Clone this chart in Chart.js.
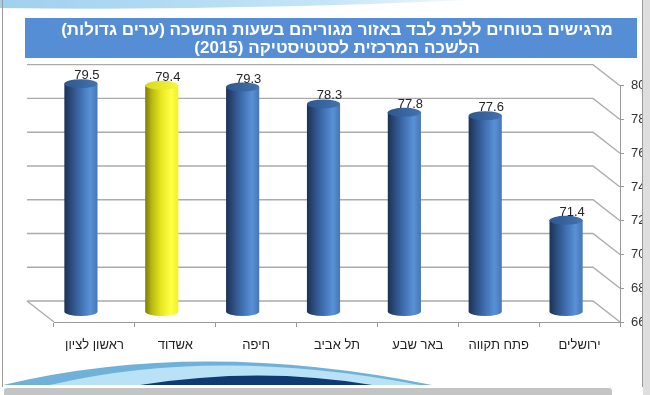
<!DOCTYPE html>
<html>
<head>
<meta charset="utf-8">
<script src="https://cdn.jsdelivr.net/npm/chart.js@4.4.1/dist/chart.umd.min.js"></script>
<style>
  html, body { margin: 0; padding: 0; background: #fff; }
  #wrap { width: 650px; height: 395px; position: relative; }
</style>
</head>
<body>
<div id="wrap"><canvas id="safetyChart"></canvas></div>
<script>
// נתונים
const cities = ['ראשון לציון', 'אשדוד', 'חיפה', 'תל אביב', 'באר שבע', 'פתח תקווה', 'ירושלים'];
const feelSafe = [79.5, 79.4, 79.3, 78.3, 77.8, 77.6, 71.4];
const titleLines = [
  'מרגישים בטוחים ללכת לבד באזור מגוריהם בשעות החשכה (ערים גדולות)',
  'הלשכה המרכזית לסטטיסטיקה (2015)'
];
const yMin = 66;
const yMax = 80;
const yStep = 2;

// עומק התלת-ממד (קיר אחורי)
const DEPTH_X = -27;
const DEPTH_Y = -21;

const BLUE = {
  body: [[0, '#1b3253'], [0.2, '#2b4b7c'], [0.5, '#4070b2'], [0.78, '#5991d6'], [1, '#4676b8']],
  top: ['#2d578f', '#4373b0']
};
const YELLOW = {
  body: [[0, '#7c7c08'], [0.2, '#b9b912'], [0.5, '#eaea22'], [0.78, '#ffff45'], [1, '#f0f02a']],
  top: ['#d8d81c', '#f7f740']
};
const barStyles = [BLUE, YELLOW, BLUE, BLUE, BLUE, BLUE, BLUE];

Chart.defaults.font.family = "'Liberation Sans', Arial, sans-serif";

// רקע השקופית: קשתות, מסגרת
const slideBackground = {
  id: 'slideBackground',
  beforeDraw(chart) {
    const ctx = chart.ctx;
    ctx.save();
    ctx.fillStyle = '#fff';
    ctx.fillRect(0, 0, chart.width, chart.height);

    // קשת עליונה
    const gTop = ctx.createLinearGradient(0, 0, 470, 0);
    gTop.addColorStop(0, '#9fd0ee');
    gTop.addColorStop(0.7, '#c5e5f7');
    gTop.addColorStop(1, '#f2f9fd');
    ctx.fillStyle = gTop;
    ctx.beginPath();
    ctx.moveTo(0, 0);
    ctx.lineTo(470, 0);
    ctx.quadraticCurveTo(230, 11, 0, 8);
    ctx.closePath();
    ctx.fill();

    // קשתות תחתונות
    ctx.fillStyle = '#6fb1d9';
    ctx.beginPath();
    ctx.moveTo(3, 385);
    ctx.quadraticCurveTo(200, 338, 432, 385);
    ctx.closePath();
    ctx.fill();
    ctx.fillStyle = '#b9e2f7';
    ctx.beginPath();
    ctx.moveTo(50, 385);
    ctx.quadraticCurveTo(215, 346, 420, 385);
    ctx.closePath();
    ctx.fill();
    ctx.fillStyle = '#0f3b72';
    ctx.beginPath();
    ctx.moveTo(140, 385);
    ctx.quadraticCurveTo(260, 366, 372, 385);
    ctx.closePath();
    ctx.fill();

    // מסגרת הכותרת
    ctx.fillStyle = '#558ed5';
    ctx.fillRect(25, 18, 612, 40);
    ctx.restore();
  },
  afterDraw(chart) {
    const ctx = chart.ctx;
    ctx.save();
    ctx.fillStyle = '#dedede';
    ctx.fillRect(643, 0, 7, chart.height);
    ctx.strokeStyle = '#9a9a9a';
    ctx.lineWidth = 1;
    ctx.beginPath();
    ctx.moveTo(642.5, 0);
    ctx.lineTo(642.5, 387);
    ctx.moveTo(2.5, 0);
    ctx.lineTo(2.5, 387);
    ctx.stroke();
    ctx.fillStyle = '#c4c4c4';
    ctx.beginPath();
    ctx.roundRect(4, 388, 608, 9, 3);
    ctx.fill();
    ctx.restore();
  }
};

// קיר אחורי ורצפה
const wallFrame = {
  id: 'wallFrame',
  beforeDatasetsDraw(chart) {
    const { ctx, chartArea: a, scales: { y } } = chart;
    ctx.save();
    ctx.strokeStyle = '#ababab';
    ctx.lineWidth = 1.3;
    ctx.beginPath();
    y.ticks.forEach(t => {
      const py = y.getPixelForValue(t.value);
      ctx.moveTo(a.left + DEPTH_X, py + DEPTH_Y);
      ctx.lineTo(a.right + DEPTH_X, py + DEPTH_Y);
      ctx.lineTo(a.right, py);
    });
    ctx.moveTo(a.left, a.bottom);
    ctx.lineTo(a.left + DEPTH_X, a.bottom + DEPTH_Y);
    ctx.stroke();
    ctx.restore();
  }
};

function drawCylinder(ctx, cx, top, bottom, rx, ry, style) {
  const g = ctx.createLinearGradient(cx - rx, 0, cx + rx, 0);
  style.body.forEach(s => g.addColorStop(s[0], s[1]));
  ctx.fillStyle = g;
  ctx.beginPath();
  ctx.moveTo(cx - rx, top);
  ctx.lineTo(cx - rx, bottom);
  ctx.ellipse(cx, bottom, rx, ry, 0, Math.PI, 0, true);
  ctx.lineTo(cx + rx, top);
  ctx.closePath();
  ctx.fill();

  const gt = ctx.createLinearGradient(cx - rx, 0, cx + rx, 0);
  gt.addColorStop(0, style.top[0]);
  gt.addColorStop(1, style.top[1]);
  ctx.fillStyle = gt;
  ctx.beginPath();
  ctx.ellipse(cx, top, rx, ry, 0, 0, Math.PI * 2);
  ctx.fill();
}

// עמודות גליליות + תוויות ערכים
const cylinders = {
  id: 'cylinders',
  afterDatasetsDraw(chart) {
    const ctx = chart.ctx;
    const y = chart.scales.y;
    const meta = chart.getDatasetMeta(0);
    const floor = y.getPixelForValue(yMin) + DEPTH_Y / 2;
    ctx.save();
    meta.data.forEach((bar, i) => {
      const cx = bar.x + DEPTH_X / 2;
      const top = y.getPixelForValue(feelSafe[i]) + DEPTH_Y / 2;
      drawCylinder(ctx, cx, top, floor, bar.width / 2, 4.5, barStyles[i]);
      ctx.fillStyle = '#262626';
      ctx.font = "13px 'Liberation Sans', Arial, sans-serif";
      ctx.textAlign = 'center';
      ctx.textBaseline = 'middle';
      ctx.fillText(feelSafe[i].toFixed(1), cx + 6, top - 8);
    });
    ctx.restore();
  }
};

new Chart(document.getElementById('safetyChart'), {
  type: 'bar',
  data: {
    labels: cities,
    datasets: [{
      data: feelSafe,
      base: yMin,
      backgroundColor: 'rgba(0,0,0,0)',
      borderWidth: 0,
      barPercentage: 0.41,
      categoryPercentage: 1
    }]
  },
  options: {
    responsive: true,
    maintainAspectRatio: false,
    animation: false,
    events: [],
    layout: { padding: { top: 0, left: 54, right: 0, bottom: 35 } },
    plugins: {
      legend: { display: false },
      tooltip: { enabled: false },
      title: {
        display: true,
        fullSize: false,
        text: titleLines,
        rtl: true,
        color: '#ffffff',
        font: { size: 17, weight: 'bold', lineHeight: 1.08 },
        padding: { top: 21, bottom: 28 }
      }
    },
    scales: {
      x: {
        offset: true,
        grid: { drawOnChartArea: false, tickLength: 5, color: '#999' },
        border: { color: '#999' },
        ticks: { color: '#222', font: { size: 13 }, padding: 11, maxRotation: 0 },
        afterFit: s => { s.height = 38; }
      },
      y: {
        position: 'right',
        min: yMin,
        max: yMax,
        grid: { drawOnChartArea: false, tickLength: 4, color: '#999' },
        border: { color: '#999' },
        ticks: { stepSize: yStep, color: '#333', font: { size: 13 }, padding: 7 },
        afterFit: s => { s.width = 30; }
      }
    }
  },
  plugins: [slideBackground, wallFrame, cylinders]
});
</script>
</body>
</html>
